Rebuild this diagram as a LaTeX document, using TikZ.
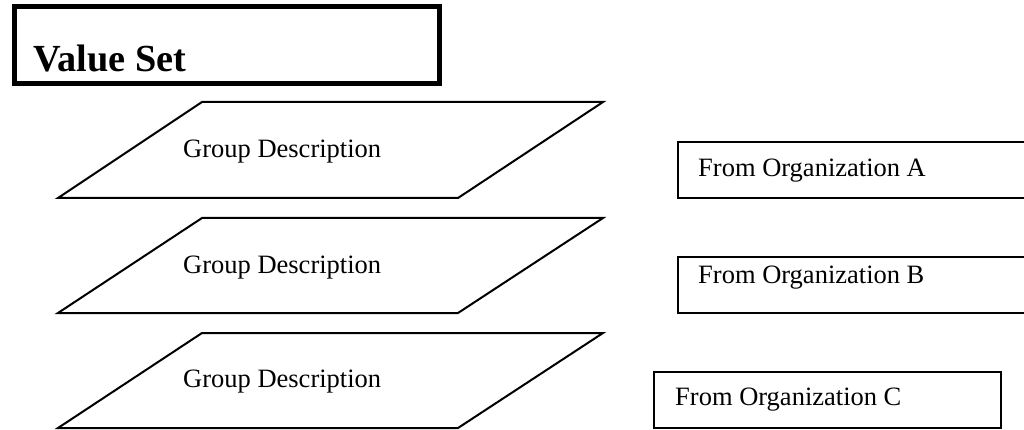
\documentclass[tikz,border=0pt]{standalone}
\usepackage{fontspec}
\setmainfont{Liberation Serif}
\begin{document}
\begin{tikzpicture}[x=1pt,y=-1pt,
  thinline/.style={draw=black,line width=2pt,line join=miter},
  titlebox/.style={draw=black,line width=5pt},
  lbl/.style={anchor=base west,inner sep=0pt,font=\fontsize{26.5}{30}\selectfont},
  titlelbl/.style={anchor=base west,inner sep=0pt,font=\fontsize{38.3}{42}\selectfont\bfseries}]
\useasboundingbox (0,0) rectangle (1024,430);
% title box
\draw[titlebox] (14.5,6.5) rectangle (439.5,83.5);
\node[titlelbl] (title) at (33,72) {Value Set};
% parallelograms
\foreach \t/\b/\bl/\n in {102/198/158/g1, 218/313/273/g2, 333/428/387/g3}{
  \draw[thinline] (58,\b) -- (202,\t) -- (603,\t) -- (458,\b) -- cycle;
  \node[lbl] (\n) at (183,\bl) {Group Description};
}
% organization boxes
\draw[thinline] (678,142) rectangle (1030,198);
\node[lbl] (oa) at (698,177) {From Organization A};
\draw[thinline] (678,257) rectangle (1030,313);
\node[lbl] (ob) at (698,283) {From Organization B};
\draw[thinline] (654,372) rectangle (1001,428);
\node[lbl] (oc) at (675,405) {From Organization C};
\end{tikzpicture}
\end{document}
